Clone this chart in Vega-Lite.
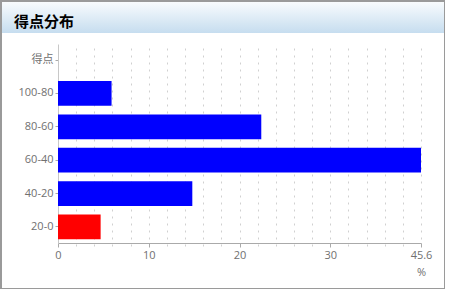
{
  "$schema": "https://vega.github.io/schema/vega-lite/v6.json",
  "width": 444,
  "height": 288,
  "autosize": {"type": "none"},
  "padding": {"left": 1, "top": 1, "right": 0, "bottom": 0},
  "title": {"text": "得点分布", "anchor": "start", "frame": "group", "orient": "top", "offset": -23, "dx": 13, "dy": 18, "baseline": "alphabetic", "font": "Noto Sans CJK JP", "fontSize": 15, "fontWeight": "bold", "color": "#000000"},
  "config": {
    "view": {"stroke": "#9a9a9a", "strokeWidth": 2},
    "axis": {"labelFont": "Open Sans, Noto Sans CJK JP", "labelFontSize": 11, "labelColor": "#707070", "titleFont": "Open Sans", "titleFontSize": 11, "titleColor": "#707070", "titleFontWeight": "normal"}
  },
  "layer": [
    {
      "data": {"values": [{"a": 0, "b": 1}]},
      "mark": {"type": "rect", "color": {"gradient": "linear", "x1": 0, "y1": 0, "x2": 0, "y2": 1, "stops": [{"offset": 0, "color": "#f8fbfd"}, {"offset": 1, "color": "#c6ddef"}]}},
      "encoding": {
        "x": {"field": "a", "type": "quantitative", "scale": {"domain": [0, 1], "range": [1, 443], "nice": false, "zero": false}, "axis": null},
        "x2": {"field": "b"},
        "y": {"field": "a", "type": "quantitative", "scale": {"domain": [0, 1], "range": [1, 32], "nice": false, "zero": false}, "axis": null},
        "y2": {"field": "b"}
      }
    },
    {
      "data": {"values": [
        {"range": "100-80", "pct": 5.9},
        {"range": "80-60", "pct": 22.4},
        {"range": "60-40", "pct": 45.6},
        {"range": "40-20", "pct": 14.8},
        {"range": "20-0", "pct": 4.7}
      ]},
      "mark": {"type": "bar"},
      "encoding": {
        "x": {"field": "pct", "type": "quantitative",
          "scale": {"domain": [0, 40], "range": [57, 420], "clamp": true, "nice": false},
          "axis": {"values": [0,2,4,6,8,10,12,14,16,18,20,22,24,26,28,30,32,34,36,38,40],
            "labelExpr": "datum.value % 10 === 0 ? (datum.value === 40 ? '45.6' : datum.label) : ''",
            "labelFlush": false, "labelOverlap": false,
            "grid": true, "gridDash": [2, 5], "gridColor": "#d0d0d0",
            "domainColor": "#aaaaaa", "tickColor": "#aaaaaa", "tickSize": 4,
            "tickOpacity": {"condition": {"test": "datum.value % 10 === 0", "value": 1}, "value": 0},
            "offset": -46, "title": "%", "titleAnchor": "end", "titleAlign": "center", "titlePadding": 6}},
        "y": {"field": "range", "type": "nominal",
          "scale": {"domain": ["得点", "100-80", "80-60", "60-40", "40-20", "20-0"], "range": [43, 242], "paddingInner": 0.26, "paddingOuter": 0.11},
          "axis": {"title": null, "offset": -57, "domainColor": "#c8c8c8", "tickColor": "#aaaaaa", "tickSize": 3, "labelPadding": 2, "grid": false}},
        "color": {"condition": {"test": "datum.range === '20-0'", "value": "#ff0000"}, "value": "#0000ff"}
      }
    }
  ],
  "resolve": {"scale": {"x": "independent", "y": "independent"}}
}
